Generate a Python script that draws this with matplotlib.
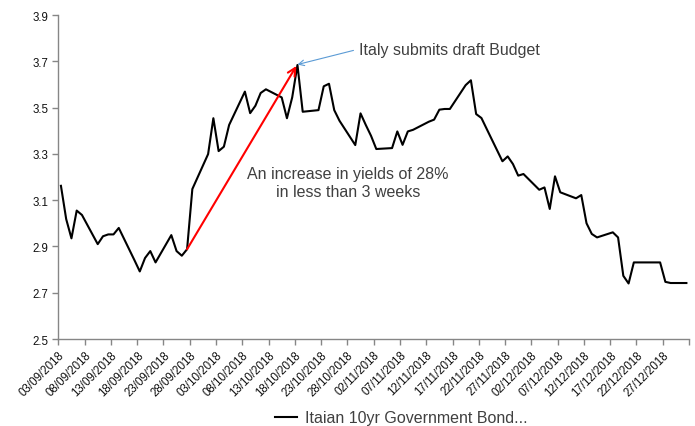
import pandas as pd
import matplotlib
matplotlib.use("Agg")
import matplotlib.pyplot as plt

plt.rcParams['font.family'] = ['Liberation Sans', 'DejaVu Sans']

# Italian 10yr yields, business days
dates = ["03/09/2018", "04/09/2018", "05/09/2018", "06/09/2018", "07/09/2018",
         "10/09/2018", "11/09/2018", "12/09/2018", "13/09/2018", "14/09/2018",
         "17/09/2018", "18/09/2018", "19/09/2018", "20/09/2018", "21/09/2018",
         "24/09/2018", "25/09/2018", "26/09/2018", "27/09/2018", "28/09/2018",
         "01/10/2018", "02/10/2018", "03/10/2018", "04/10/2018", "05/10/2018",
         "08/10/2018", "09/10/2018", "10/10/2018", "11/10/2018", "12/10/2018",
         "15/10/2018", "16/10/2018", "17/10/2018", "18/10/2018", "19/10/2018",
         "22/10/2018", "23/10/2018", "24/10/2018", "25/10/2018", "26/10/2018",
         "29/10/2018", "30/10/2018", "31/10/2018", "01/11/2018", "02/11/2018",
         "05/11/2018", "06/11/2018", "07/11/2018", "08/11/2018", "09/11/2018",
         "12/11/2018", "13/11/2018", "14/11/2018", "15/11/2018", "16/11/2018",
         "19/11/2018", "20/11/2018", "21/11/2018", "22/11/2018", "23/11/2018",
         "26/11/2018", "27/11/2018", "28/11/2018", "29/11/2018", "30/11/2018",
         "03/12/2018", "04/12/2018", "05/12/2018", "06/12/2018", "07/12/2018",
         "10/12/2018", "11/12/2018", "12/12/2018", "13/12/2018", "14/12/2018",
         "17/12/2018", "18/12/2018", "19/12/2018", "20/12/2018", "21/12/2018",
         "24/12/2018", "25/12/2018", "26/12/2018", "27/12/2018", "28/12/2018",
         "31/12/2018"]
yields = [3.162, 3.018, 2.935, 3.055, 3.036,
          2.910, 2.944, 2.952, 2.952, 2.980,
          2.840, 2.792, 2.850, 2.880, 2.831,
          2.949, 2.880, 2.860, 2.888, 3.148,
          3.299, 3.454, 3.312, 3.331, 3.425,
          3.569, 3.476, 3.508, 3.563, 3.579,
          3.544, 3.454, 3.544, 3.684, 3.482,
          3.489, 3.592, 3.603, 3.489, 3.443,
          3.338, 3.475, 3.425, 3.378, 3.321,
          3.325, 3.397, 3.339, 3.397, 3.404,
          3.439, 3.448, 3.491, 3.494, 3.494,
          3.597, 3.618, 3.472, 3.455, 3.408,
          3.268, 3.289, 3.256, 3.206, 3.213,
          3.145, 3.155, 3.062, 3.203, 3.134,
          3.108, 3.122, 3.000, 2.954, 2.939,
          2.961, 2.939, 2.773, 2.740, 2.831,
          2.831, 2.831, 2.831, 2.747, 2.742,
          2.742]
series_name = "Itaian 10yr Government Bond..."

start = pd.Timestamp(2018, 9, 3)
end = pd.Timestamp(2019, 1, 1)
d = pd.to_datetime(dates, format="%d/%m/%Y")
# excel-style date axis: each day is a slot, points sit in the middle
x = (d - start).days + 0.5

fig = plt.figure(figsize=(6.95, 4.27), dpi=100)
ax = fig.add_axes([0.0839, 0.2037, 0.9075, 0.7588])

ax.plot(x, yields, color="black", lw=1.5, label=series_name, zorder=3)

ax.set_xlim(0, (end - start).days)
ax.set_ylim(2.5, 3.9)
ax.set_yticks([2.5, 2.7, 2.9, 3.1, 3.3, 3.5, 3.7, 3.9])

tick_days = list(range(0, (end - start).days + 1, 5))
tick_labels = [(start + pd.Timedelta(days=t)).strftime("%d/%m/%Y") for t in tick_days]
tick_labels[-1] = ""
ax.set_xticks(tick_days)
ax.set_xticklabels(tick_labels, rotation=45, ha="right", rotation_mode="anchor")

for s in ["top", "right"]:
    ax.spines[s].set_visible(False)
for s in ["left", "bottom"]:
    ax.spines[s].set_color("#868686")
    ax.spines[s].set_linewidth(1.0)
ax.tick_params(axis="both", direction="out", length=4, width=1.0,
               color="#868686", labelsize=8.3, labelcolor="#111111", pad=3)

# red arrow: the rise into the budget
i0 = dates.index("27/09/2018")
i1 = dates.index("18/10/2018")
ax.annotate("", xy=(x[i1] - 0.2, yields[i1] - 0.004), xytext=(x[i0], yields[i0]),
            arrowprops=dict(arrowstyle="->", color="red", lw=1.5,
                            shrinkA=0, shrinkB=0, mutation_scale=14))
ax.text(55.1, 3.178, "An increase in yields of 28%\nin less than 3 weeks",
        ha="center", va="center", fontsize=11.5, color="#404040",
        linespacing=1.25)

ax.annotate("Italy submits draft Budget", xy=(x[i1], yields[i1] + 0.002),
            xytext=(57.2, 3.753), ha="left", va="center", fontsize=11.5,
            color="#404040",
            arrowprops=dict(arrowstyle="->", color="#5B9BD5", lw=0.8,
                            shrinkA=2, shrinkB=0, relpos=(0, 0.5),
                            mutation_scale=10))

fig.legend(loc="center left", bbox_to_anchor=(0.3957, 0.019), frameon=False,
           fontsize=11.5, handlelength=1.4, handletextpad=0.5,
           borderpad=0, borderaxespad=0, labelcolor="#404040")

fig.savefig("out.png", dpi=100)
